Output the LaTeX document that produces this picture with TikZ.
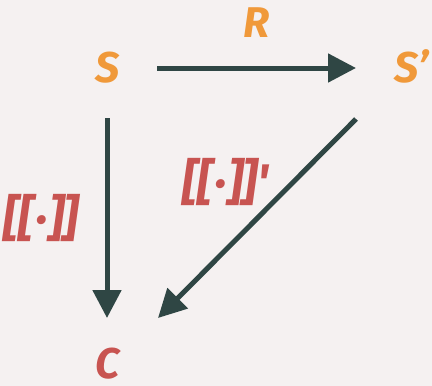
\documentclass[tikz,border=0pt]{standalone}
\usepackage{fontspec}
\setmainfont{Fira Sans}
\newfontfamily\semfont{Fira Sans}
\usetikzlibrary{arrows.meta}
\definecolor{bgc}{HTML}{F5F1F1}
\definecolor{orangec}{HTML}{F0993A}
\definecolor{redc}{HTML}{C85451}
\definecolor{arrc}{HTML}{2F4644}
\begin{document}
\begin{tikzpicture}[x=1pt,y=-1pt,
  obj/.style={font=\fontsize{43}{48}\selectfont\bfseries\itshape, text=orangec, inner sep=0pt, anchor=base},
  sem/.style={font=\semfont\fontsize{50}{54}\selectfont\bfseries\itshape, text=redc, inner sep=0pt},
  conn/.style={draw=arrc, line width=5pt, -{Triangle[length=28pt,width=28pt]}}]
\fill[bgc] (0,0) rectangle (432,386);
\useasboundingbox (0,0) rectangle (432,386);
\node[obj] (S) at (108,82) {S};
\node[obj] (Sp) at (412,82) {S’};
\node[obj] (R) at (257,37) {R};
\node[obj, text=redc] (C) at (108,378) {C};
\coordinate (a1) at (157,68);
\coordinate (a2) at (356,68);
\coordinate (b1) at (107,118);
\coordinate (b2) at (107,318);
\coordinate (c1) at (356,119);
\coordinate (c2) at (158,318);
\draw[conn] (a1) -- (a2);
\draw[conn] (b1) -- (b2);
\draw[conn] (c1) -- (c2);
\node[sem] (L1) at (41,218) {[\kern-0.02em[\kern0.02em·\kern0.02em]\kern-0.02em]};
\node[sem] (L2) at (226,182) {[\kern-0.02em[\kern0.02em·\kern0.02em]\kern-0.02em]'};
\end{tikzpicture}
\end{document}
